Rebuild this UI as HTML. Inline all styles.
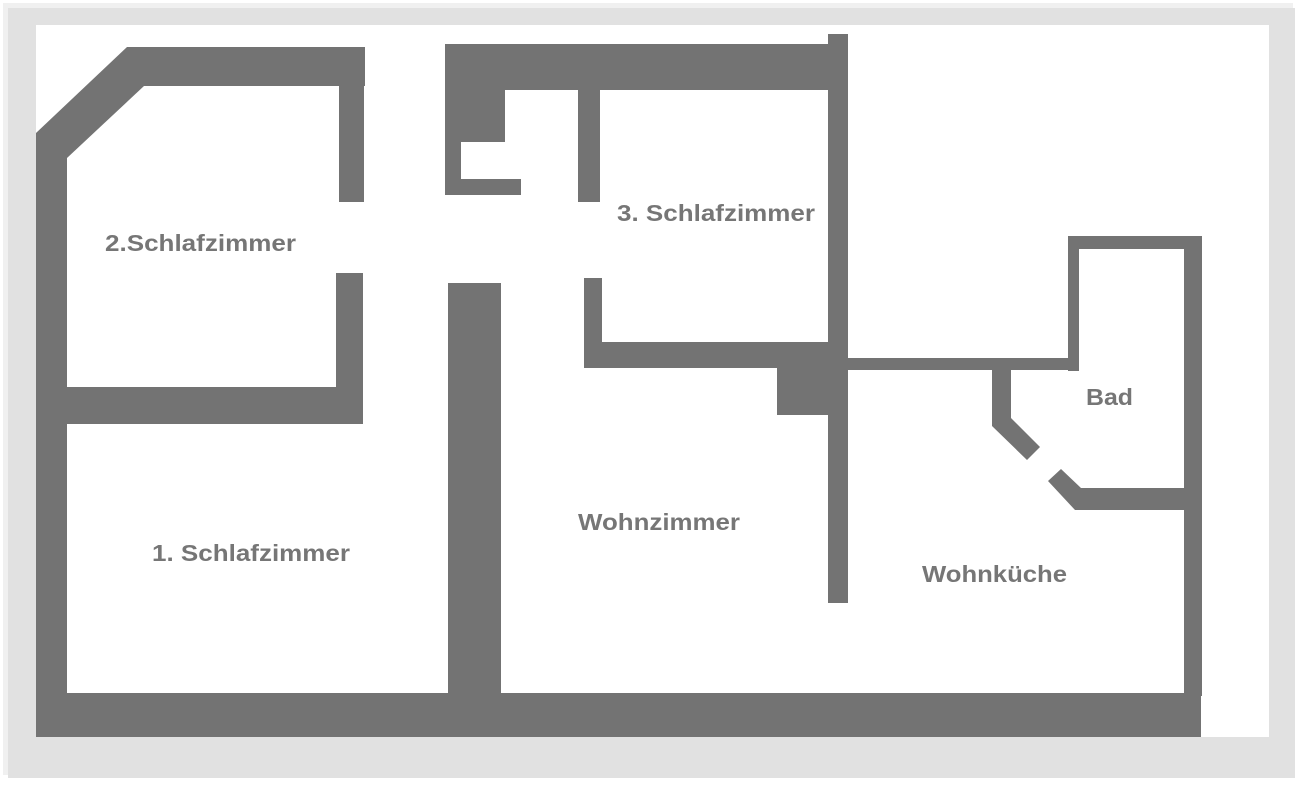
<!DOCTYPE html>
<html><head><style>
html,body{margin:0;padding:0;background:#fff;}
svg{display:block;}
text{font-family:"Liberation Sans",sans-serif;font-weight:bold;font-size:23px;fill:#767676;}
</style></head><body>
<svg width="1303" height="787" viewBox="0 0 1303 787">
<rect x="3" y="3" width="1290" height="772" fill="#f0f0f0"/>
<rect x="8" y="8" width="1287" height="770" fill="#e1e1e1"/>
<rect x="36" y="25" width="1233" height="712" fill="#fff"/>
<g fill="#737373">
<polygon points="127,47 365,47 365,86 144,86 67,158 67,737 36,737 36,133"/>
<rect x="339" y="86" width="25" height="116"/>
<rect x="336" y="273" width="27" height="151"/>
<rect x="67" y="387" width="270" height="37"/>
<rect x="448" y="283" width="53" height="454"/>
<rect x="36" y="693" width="1165" height="44"/>
<rect x="445" y="44" width="390" height="46"/>
<rect x="828" y="34" width="20" height="569"/>
<rect x="445" y="90" width="60" height="52"/>
<rect x="445" y="142" width="16" height="53"/>
<rect x="445" y="179" width="76" height="16"/>
<rect x="578" y="90" width="22" height="112"/>
<rect x="584" y="278" width="18" height="89"/>
<rect x="584" y="342" width="246" height="26"/>
<rect x="777" y="366" width="52" height="49"/>
<rect x="847" y="358" width="232" height="12"/>
<rect x="1068" y="236" width="11" height="135"/>
<rect x="1068" y="236" width="134" height="13"/>
<rect x="1184" y="236" width="18" height="460"/>
<polygon points="992,370 1011,370 1011,418 1040,447 1027,460 992,426"/>
<polygon points="1061,469 1081,488 1184,488 1184,510 1075,510 1048,481"/>
</g>
<text x="105" y="251" textLength="191" lengthAdjust="spacingAndGlyphs">2.Schlafzimmer</text>
<text x="617" y="221" textLength="198" lengthAdjust="spacingAndGlyphs">3. Schlafzimmer</text>
<text x="152" y="561" textLength="198" lengthAdjust="spacingAndGlyphs">1. Schlafzimmer</text>
<text x="578" y="530" textLength="162" lengthAdjust="spacingAndGlyphs">Wohnzimmer</text>
<text x="922" y="582" textLength="145" lengthAdjust="spacingAndGlyphs">Wohnküche</text>
<text x="1086" y="405" textLength="47" lengthAdjust="spacingAndGlyphs">Bad</text>
</svg>
</body></html>
